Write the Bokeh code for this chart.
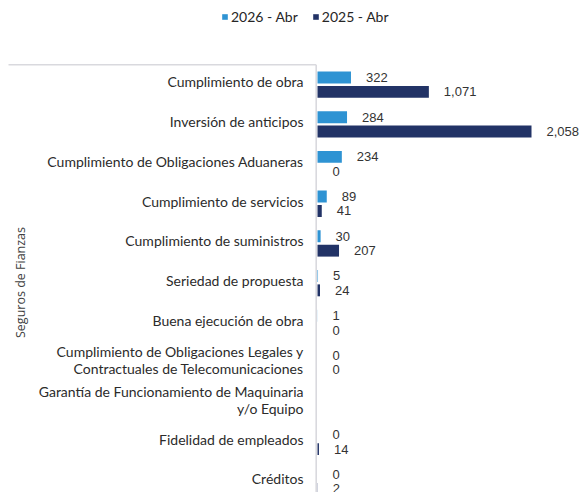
import math
from bokeh.plotting import figure
from bokeh.models import ColumnDataSource, Range1d, Legend, LegendItem
from bokeh.core.properties import value
from bokeh.embed import file_html
from bokeh.resources import INLINE

categories = [
    "Cumplimiento de obra",
    "Inversión de anticipos",
    "Cumplimiento de Obligaciones Aduaneras",
    "Cumplimiento de servicios",
    "Cumplimiento de suministros",
    "Seriedad de propuesta",
    "Buena ejecución de obra",
    "Cumplimiento de Obligaciones Legales y\nContractuales de Telecomunicaciones",
    "Garantía de Funcionamiento de Maquinaria\ny/o Equipo",
    "Fidelidad de empleados",
    "Créditos",
]
v2026 = [322, 284, 234, 89, 30, 5, 1, 0, None, 0, 0]
v2025 = [1071, 2058, 0, 41, 207, 24, 0, 0, None, 14, 2]
series_names = ["2026 - Abr", "2025 - Abr"]
axis_title = "Seguros de Fianzas"

C26 = "#2E93D3"
C25 = "#223366"
GRID = "#D9D9DE"

W, H = 580, 492
# layout (pixels within the frame)
zero_px = 317.0
max_px = 214.0
row_px = 39.7
row0_px = 84.4
s = max_px / max(v for v in v2025 if v is not None)

def X(px):  # frame px -> data x
    return (px - zero_px) / s

def Y(py):  # frame px from top -> data y
    return -(py - row0_px) / row_px

p = figure(width=W, height=H, output_backend="svg", toolbar_location=None,
           x_range=Range1d(X(0), X(W)), y_range=Range1d(Y(H), Y(0)),
           min_border=0, min_border_left=0, min_border_right=0,
           min_border_top=0, min_border_bottom=0)
p.axis.visible = False
p.grid.visible = False
p.outline_line_color = None
p.background_fill_color = "white"
p.border_fill_color = "white"

n = len(categories)
ys = [-i for i in range(n)]
off26, off25, bh = 0.187, -0.175, 0.30

def clean(v):
    return [0 if x is None else x for x in v]

src26 = ColumnDataSource(dict(y=[y + off26 for y in ys], v=clean(v2026)))
src25 = ColumnDataSource(dict(y=[y + off25 for y in ys], v=clean(v2025)))
r26 = p.hbar(y="y", right="v", left=0, height=bh, source=src26,
             fill_color=C26, line_color=None)
r25 = p.hbar(y="y", right="v", left=0, height=bh, source=src25,
             fill_color=C25, line_color=None)

# value labels
for v, off in ((v2026, off26), (v2025, off25)):
    lx, ly, lt = [], [], []
    for i, x in enumerate(v):
        if x is None:
            continue
        lx.append(x); ly.append(-i + off); lt.append(f"{x:,}")
    p.text(x=lx, y=ly, text=lt, x_offset=15, text_align="left",
           text_baseline="middle", text_font=value("Liberation Sans"),
           text_font_size="13px", text_color="#333333")

# category labels
p.text(x=[0] * n, y=ys, text=categories, x_offset=-14, y_offset=-3,
       text_align="right", text_baseline="middle",
       text_font=value("Lato"), text_font_size="14px",
       text_color="#2b2b2b", text_line_height=1.0)

# axis title (rotated)
p.text(x=[X(20)], y=[Y(282)], text=[axis_title], angle=math.pi / 2,
       text_align="center", text_baseline="middle",
       text_font=value("Open Sans"), text_font_size="12.5px",
       text_color="#404040")

# category frame lines
p.segment(x0=[X(8), X(315.7)], y0=[Y(64.3), Y(64.3)],
          x1=[X(315.7), X(315.7)], y1=[Y(64.3), Y(H + 5)],
          line_color=GRID, line_width=1.6)

legend = Legend(items=[LegendItem(label=series_names[0], renderers=[r26]),
                       LegendItem(label=series_names[1], renderers=[r25])],
                orientation="horizontal", location=(221, 467),
                glyph_width=7, glyph_height=7, label_standoff=3,
                label_height=14, spacing=14, padding=0, margin=0,
                border_line_color=None, background_fill_alpha=0,
                label_text_font="Lato", label_text_font_size="14px",
                label_text_color="#262626", label_text_baseline="middle")
p.add_layout(legend, "center")

open("out.html", "w").write(file_html(p, INLINE))
